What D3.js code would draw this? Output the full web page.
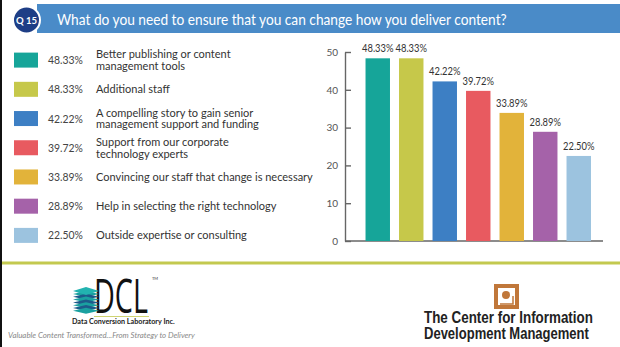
<!DOCTYPE html>
<html>
<head>
<meta charset="utf-8">
<script src="https://cdn.jsdelivr.net/npm/d3@7"></script>
<style>
  html, body { margin: 0; padding: 0; background: #fff; }
  svg { display: block; font-family: Lato, "Open Sans", sans-serif; }
</style>
</head>
<body>
<svg id="chart" width="620" height="347"></svg>
<script>
// ---- data ----
const questionId = "Q 15";
const title = "What do you need to ensure that you can change how you deliver content?";
const categories = [
  "Better publishing or content management tools",
  "Additional staff",
  "A compelling story to gain senior management support and funding",
  "Support from our corporate technology experts",
  "Convincing our staff that change is necessary",
  "Help in selecting the right technology",
  "Outside expertise or consulting"
];
const labelLines = [
  ["Better publishing or content", "management tools"],
  ["Additional staff"],
  ["A compelling story to gain senior", "management support and funding"],
  ["Support from our corporate", "technology experts"],
  ["Convincing our staff that change is necessary"],
  ["Help in selecting the right technology"],
  ["Outside expertise or consulting"]
];
const values = [48.33, 48.33, 42.22, 39.72, 33.89, 28.89, 22.50];
const colors = ["#16a599", "#c6c84a", "#3d7fc4", "#e85a60", "#e2b33a", "#a562a9", "#9cc3df"];
const yTicks = [0, 10, 20, 30, 40, 50];

const svg = d3.select("#chart");
const fmt = v => v.toFixed(2) + "%";

// place a text at (x,y) and squeeze it horizontally to a target width
function fitText(parent, x, y, str, width, attrs, anchor) {
  const g = parent.append("g");
  const t = g.append("text").text(str);
  Object.entries(attrs).forEach(([k, v]) => t.attr(k, v));
  const w = t.node().getComputedTextLength();
  const s = w > 0 ? width / w : 1;
  if (anchor === "middle") t.attr("text-anchor", "middle");
  g.attr("transform", `translate(${x},${y}) scale(${s},1)`);
  return t;
}

// left border
svg.append("rect").attr("x", 0).attr("y", 0).attr("width", 2).attr("height", 347).attr("fill", "#111");

// ---- title band ----
svg.append("rect").attr("x", 37).attr("y", 4).attr("width", 583).attr("height", 29).attr("fill", "#4a8bc8");
svg.append("circle").attr("cx", 26.5).attr("cy", 20).attr("r", 13.5)
  .attr("fill", "#1e3e86").attr("stroke", "#fff").attr("stroke-width", 2);
svg.append("text").attr("x", 26.5).attr("y", 23.5).attr("text-anchor", "middle")
  .attr("fill", "#fff").attr("font-size", 9.5).attr("font-weight", 700).text(questionId);
fitText(svg, 57, 24.5, title, 450, { fill: "#fff", "font-size": 16 });

// ---- legend ----
const legendY = d3.scaleBand().domain(categories).range([45.5, 250]).padding(0);
const lg = svg.append("g");
categories.forEach((c, i) => {
  const cy = legendY(c) + legendY.bandwidth() / 2;
  lg.append("rect").attr("x", 14).attr("y", cy - 7.5).attr("width", 24).attr("height", 15).attr("fill", colors[i]);
  fitText(lg, 48, cy + 4, fmt(values[i]), 35, { "font-size": 11.5, fill: "#444" });
  const lines = labelLines[i];
  const lh = 11.5;
  lines.forEach((ln, j) => {
    const yy = cy + 4 + (j - (lines.length - 1) / 2) * lh;
    lg.append("text").attr("x", 96).attr("y", yy).attr("font-size", 11).attr("fill", "#333").text(ln);
  });
});

// ---- bar chart ----
const x = d3.scaleBand().domain(categories).range([361, 595.5]).paddingInner(0.27).paddingOuter(0.135);
const y = d3.scaleLinear().domain([0, 50]).range([241, 52]);

const yAxis = d3.axisLeft(y).tickValues(yTicks).tickSizeInner(-6).tickSizeOuter(0).tickPadding(7);
const gy = svg.append("g").attr("transform", "translate(345,0)").call(yAxis);
gy.select(".domain").attr("stroke", "#666").attr("stroke-width", 1.4);
gy.selectAll(".tick line").attr("stroke", "#666").attr("stroke-width", 1.4);
gy.selectAll(".tick text").attr("fill", "#555").attr("font-size", 10).attr("font-family", "Lato, sans-serif");

svg.append("line").attr("x1", 345).attr("x2", 603).attr("y1", y(0)).attr("y2", y(0))
  .attr("stroke", "#666").attr("stroke-width", 1.4);

svg.append("g").selectAll("rect").data(values).join("rect")
  .attr("x", (d, i) => x(categories[i]))
  .attr("y", d => y(d))
  .attr("width", x.bandwidth())
  .attr("height", d => y(0) - y(d))
  .attr("fill", (d, i) => colors[i]);

const vl = svg.append("g");
values.forEach((d, i) => {
  fitText(vl, x(categories[i]) + x.bandwidth() / 2, y(d) - 6, fmt(d), 31.5,
    { "font-size": 11.5, fill: "#333" }, "middle");
});

// ---- separator ----
svg.append("rect").attr("x", 2).attr("y", 261.5).attr("width", 618).attr("height", 3).attr("fill", "#c3c94f");

// ---- DCL logo ----
const logo = svg.append("g");
fitText(logo, 94, 313, "DCL", 54, { "font-size": 48, fill: "#111", "font-family": "'Open Sans', sans-serif" });
logo.append("text").attr("x", 152).attr("y", 280).attr("font-size", 4).attr("fill", "#333").text("TM");
// stacked-sheets icon
for (let k = 0; k < 7; k++) {
  const yy = 291 + k * 2.8;
  logo.append("path")
    .attr("d", `M73,${yy + 3} L86,${yy} L99,${yy + 3} L86,${yy + 6} Z`)
    .attr("fill", k % 2 === 0 ? "#1aa0a0" : "#1d5a8a");
}
logo.append("path").attr("d", "M73,291 L86,287 L99,291 L86,295 Z").attr("fill", "#22b3b0");
logo.append("line").attr("x1", 94).attr("x2", 149).attr("y1", 316.5).attr("y2", 316.5)
  .attr("stroke", "#c3c94f").attr("stroke-width", 0.8);
fitText(logo, 72, 324, "Data Conversion Laboratory Inc.", 103,
  { "font-size": 7.5, "font-weight": 700, fill: "#222" });
fitText(logo, 8, 338, "Valuable Content Transformed...From Strategy to Delivery", 187,
  { "font-size": 8.5, "font-style": "italic", fill: "#888" });

// ---- CIDM logo ----
const c2 = svg.append("g");
c2.append("rect").attr("x", 496).attr("y", 286).attr("width", 21).attr("height", 21)
  .attr("fill", "none").attr("stroke", "#c0773a").attr("stroke-width", 4);
c2.append("circle").attr("cx", 506).attr("cy", 295).attr("r", 4).attr("fill", "#c0773a");
c2.append("path").attr("d", "M500,304 H513 V296").attr("fill", "none").attr("stroke", "#c0773a").attr("stroke-width", 1.5);
const cidmFont = { "font-size": 16, "font-weight": 700, fill: "#222", "font-family": "'Liberation Sans', Arial, sans-serif" };
fitText(c2, 424, 323, "The Center for Information", 169, cidmFont);
fitText(c2, 424, 339, "Development Management", 165, cidmFont);
</script>
</body>
</html>
